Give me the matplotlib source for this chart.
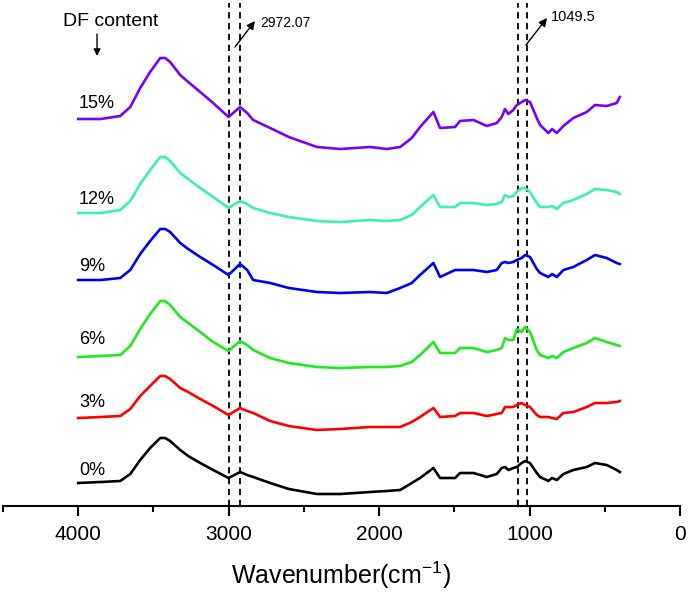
import matplotlib
matplotlib.use("Agg")
import matplotlib.pyplot as plt
from matplotlib.ticker import MultipleLocator

plt.rcParams['font.family'] = ['Liberation Sans', 'DejaVu Sans']
plt.rcParams['mathtext.fontset'] = 'custom'
plt.rcParams['mathtext.rm'] = 'Liberation Sans'
plt.rcParams['mathtext.it'] = 'Liberation Sans'

# Wavenumber grid (cm^-1)
wavenumber = [4000, 3850, 3721, 3654, 3588, 3522, 3455, 3422, 3389, 3322,
              3269, 3189, 3103, 3001, 2924, 2877, 2837, 2724,
              2600, 2414, 2259, 2060, 1949,
              1860, 1783, 1728, 1639, 1595, 1495, 1462, 1373, 1284, 1218,
              1185, 1163, 1141, 1108, 1085, 1052, 1030, 997, 952, 930,
              875, 850, 819, 775, 709, 620, 565, 487, 421, 400]

# Stacked spectra (vertical position, arbitrary units; axis runs downward)
s15 = [119, 119, 116, 107, 88, 72, 58, 58, 62, 75,
       82, 92, 103, 117, 107, 113, 120, 128,
       137, 147, 149, 147, 149,
       147, 138, 127, 112, 128, 127, 121, 120, 126, 123,
       117, 109, 114, 110, 105, 102, 100, 102, 118, 125,
       133, 129, 133, 126, 118, 112, 105, 106, 103, 97]
s12 = [213, 213, 210, 201, 184, 170, 157, 157, 161, 173,
       179, 188, 197, 208, 201, 204, 208, 213,
       217, 221, 222, 220, 221,
       220, 215, 207, 195, 207, 207, 203, 203, 205, 204,
       202, 195, 197, 196, 192, 188, 188, 192, 203, 207,
       207, 206, 209, 203, 200, 194, 189, 190, 192, 194]
s9 = [280, 280, 278, 270, 254, 241, 229, 229, 232, 243,
      249, 257, 265, 275, 264, 270, 280, 283,
      288, 292, 293, 292, 293,
      288, 283, 275, 263, 277, 270, 270, 270, 272, 270,
      263, 262, 263, 262, 260, 258, 255, 257, 269, 273,
      277, 274, 277, 270, 267, 260, 255, 258, 263, 264]
s6 = [357, 356, 355, 346, 329, 314, 301, 301, 305, 317,
      323, 332, 342, 351, 341, 345, 350, 358,
      363, 367, 368, 367, 367,
      366, 362, 355, 342, 353, 353, 348, 348, 352, 350,
      348, 338, 340, 340, 329, 332, 327, 332, 350, 355,
      358, 356, 358, 352, 348, 343, 338, 342, 345, 346]
s3 = [418, 417, 416, 409, 396, 386, 376, 376, 379, 388,
      392, 399, 406, 415, 408, 411, 413, 421,
      426, 430, 429, 427, 427,
      427, 422, 417, 408, 417, 416, 413, 413, 416, 414,
      413, 407, 407, 407, 405, 403, 405, 407, 415, 417,
      417, 418, 419, 413, 412, 407, 403, 403, 402, 401]
s0 = [483, 482, 481, 474, 460, 448, 438, 438, 441, 450,
      456, 463, 470, 478, 472, 475, 477, 483,
      489, 494, 494, 492, 491,
      490, 483, 478, 468, 478, 478, 473, 473, 477, 474,
      468, 467, 470, 468, 467, 463, 461, 463, 473, 477,
      481, 478, 480, 474, 470, 467, 463, 465, 470, 472]

series = [s0, s3, s6, s9, s12, s15]
labels = ['0%', '3%', '6%', '9%', '12%', '15%']
label_y = [471, 403, 340, 267, 199, 104]
colors = ['#000000', '#FF0000', '#1EEB1E', '#0000FF', '#3CF2A3', '#7A00FF']

marker_lines = [3000, 2925, 1075, 1015]

fig = plt.figure(figsize=(6.88, 5.95), dpi=100)
ax = fig.add_axes([3/688, 89/595, 677/688, 503/595])
ax.set_xlim(4500, 0)
ax.set_ylim(506, 3)

for x in marker_lines:
    ax.axvline(x, color='black', lw=1.3, ls=(0, (3.5, 2.5)), zorder=1)

for ys, lab, ly, c in zip(series, labels, label_y, colors):
    ax.plot(wavenumber, ys, color=c, lw=1.9, zorder=2, solid_joinstyle='round')
    ax.text(3995, ly, lab, fontsize=13, ha='left', va='center')

arrow_kw = dict(arrowstyle='-|>', color='black', lw=1.0,
                mutation_scale=12, shrinkA=0, shrinkB=0)

ax.text(4101, 22, 'DF content', fontsize=14, ha='left', va='center')
ax.annotate('', xy=(3875, 56), xytext=(3875, 34),
            arrowprops=dict(arrow_kw, mutation_scale=10))

ax.annotate('', xy=(2825, 21), xytext=(2958, 47), arrowprops=arrow_kw)
ax.text(2792, 23, '2972.07', fontsize=10, ha='left', va='center')

ax.annotate('', xy=(884, 18), xytext=(1024, 45), arrowprops=arrow_kw)
ax.text(857, 17, '1049.5', fontsize=10.5, ha='left', va='center')

for side in ['left', 'right', 'top']:
    ax.spines[side].set_visible(False)
ax.spines['bottom'].set_linewidth(1.5)
ax.set_yticks([])
ax.xaxis.set_major_locator(MultipleLocator(1000))
ax.xaxis.set_minor_locator(MultipleLocator(500))
ax.tick_params(axis='x', which='major', direction='out', length=7.5,
               width=1.5, labelsize=15, pad=6)
ax.tick_params(axis='x', which='minor', direction='out', length=4, width=1.5)
ax.set_xticks([4000, 3000, 2000, 1000, 0])
ax.set_xticklabels(['4000', '3000', '2000', '1000', '0'])

fig.text(0.496, 1 - 575/595, 'Wavenumber(cm$^{-1}$)', fontsize=18,
         ha='center', va='center')

fig.savefig('out.png', dpi=100)
